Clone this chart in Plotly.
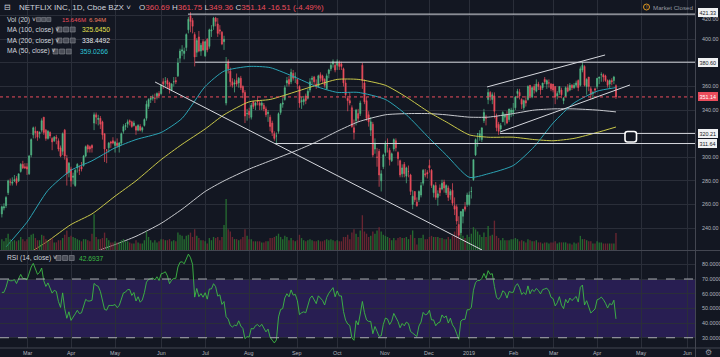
import pandas as pd
import plotly.graph_objects as go

# ---------------- data (NFLX daily, 2018-02-12 .. 2019-04-12) ----------------
holidays = ["2018-02-19", "2018-03-30", "2018-05-28", "2018-07-04", "2018-09-03",
            "2018-11-22", "2018-12-05", "2018-12-25", "2019-01-01", "2019-01-21",
            "2019-02-18", "2019-04-19", "2019-05-27"]

open_ = [
    252, 257, 259, 270, 279, 278, 280, 282, 280, 288, 294, 292,
    292, 286, 302, 319, 322, 322, 320, 323, 334, 323, 316, 321, 316, 314, 317, 314, 308, 305, 323, 299, 287,
    290, 283, 276, 291, 289, 292, 293, 301, 310, 309, 310, 329, 336, 332, 333, 330, 320, 306, 308, 313, 314,
    310, 312, 309, 312, 322, 326, 328, 331, 330, 327, 326, 323, 326, 323, 327, 333, 343, 349, 350, 350, 352, 354,
    354, 364, 364, 365, 363, 357, 364, 365, 369, 384, 390, 388, 393, 408, 420, 416, 404, 389, 402, 390, 398,
    386, 400, 394, 407, 411, 418, 413, 408, 406, 398, 346, 381, 373, 364, 362, 365, 363, 367, 360, 355, 337,
    339, 334, 347, 344, 348, 346, 344, 344, 341, 337, 334, 329, 320, 318, 322, 338, 345, 349, 363, 366, 364, 371, 368,
    366, 360, 347, 347, 352, 350, 357, 366, 368, 362, 360, 370, 369, 366, 358, 371, 375, 379, 378,
    378, 380, 379, 375, 363, 350, 348, 342, 325, 331, 337, 337, 378, 363, 348, 336, 323, 328, 307, 300, 305, 280, 292,
    304, 310, 306, 297, 307, 314, 304, 297, 286, 294, 284, 288, 285, 260, 271, 262, 264, 268, 278, 286, 287,
    293, 289, 270, 276, 266, 274, 273, 279, 270, 274, 268, 272, 259, 258, 243, 236, 250, 258, 260,
    260, 271, 281, 302, 320, 317, 315, 331, 334, 349, 355, 349, 352, 335, 328, 324, 330, 334, 336, 332, 338,
    338, 342, 354, 355, 349, 342, 348, 349, 361, 351, 360, 356, 362, 360, 359, 366, 362, 363, 362,
    362, 360, 352, 355, 357, 348, 352, 359, 357, 361, 359, 361, 365, 361, 374, 377, 360, 368, 358, 354, 358,
    360, 367, 370, 370, 369, 365, 362, 365, 365, 360.69]

high = [
    259, 261, 267, 281, 282, 283, 285, 284, 286, 295, 297, 295,
    295, 302, 316, 326, 326, 322, 322, 333, 334, 324, 323, 322, 317, 318, 319, 316, 310, 321, 324, 302, 296,
    292, 287, 290, 295, 293, 296, 302, 310, 311, 310, 311, 338, 338, 336, 335, 331, 320, 307, 313, 314, 317,
    314, 316, 313, 321, 328, 329, 332, 332, 331, 331, 327, 328, 328, 326, 333, 348, 350, 352, 353, 354, 355, 356,
    362, 367, 368, 367, 364, 363, 368, 368, 384, 392, 395, 393, 405, 419, 423, 418, 406, 401, 407, 397, 400,
    399, 401, 409, 412, 419, 419, 418, 412, 407, 403, 385, 383, 376, 367, 366, 371, 368, 369, 361, 357, 341,
    342, 346, 348, 347, 352, 348, 348, 346, 343, 340, 336, 331, 322, 321, 338, 346, 350, 361, 368, 369, 375, 374, 372,
    367, 361, 351, 352, 354, 358, 367, 369, 369, 366, 370, 372, 370, 367, 371, 375, 380, 383, 381,
    383, 382, 381, 376, 366, 352, 355, 344, 332, 341, 341, 348, 380, 366, 351, 339, 334, 330, 316, 308, 307, 289, 303,
    314, 316, 308, 304, 316, 316, 305, 298, 294, 296, 292, 293, 286, 272, 271, 266, 272, 279, 290, 290, 289,
    298, 290, 277, 279, 272, 277, 281, 281, 277, 276, 273, 278, 266, 260, 250, 254, 256, 262, 270,
    271, 275, 298, 316, 320, 323, 325, 341, 336, 358, 356, 355, 355, 337, 330, 329, 339, 337, 339, 341, 342,
    346, 352, 358, 358, 350, 349, 352, 361, 361, 360, 362, 366, 364, 361, 363, 368, 366, 366, 363,
    362, 360, 356, 360, 359, 351, 360, 362, 363, 362, 363, 365, 366, 377, 381, 378, 367, 368, 360, 356, 359,
    367, 368, 372, 371, 370, 366, 366, 367, 369, 361.75]

low = [
    249, 255, 257, 268, 276, 276, 279, 276, 279, 287, 290, 290,
    285, 285, 300, 316, 316, 314, 316, 321, 319, 314, 315, 316, 306, 313, 311, 305, 300, 302, 298, 276, 283,
    275, 277, 275, 287, 285, 288, 292, 300, 304, 304, 304, 323, 328, 327, 324, 315, 296, 295, 304, 308, 311,
    304, 308, 304, 310, 320, 323, 325, 327, 325, 326, 319, 322, 322, 321, 326, 331, 341, 346, 348, 346, 349, 350,
    353, 358, 360, 358, 354, 356, 360, 362, 368, 380, 386, 383, 390, 405, 406, 405, 377, 385, 389, 386, 390,
    385, 389, 392, 402, 408, 411, 402, 404, 395, 391, 344, 371, 360, 359, 355, 360, 359, 357, 350, 329, 331,
    333, 332, 341, 340, 344, 340, 340, 339, 334, 330, 322, 318, 314, 312, 320, 336, 342, 348, 360, 360, 362, 365, 363,
    358, 342, 341, 344, 345, 349, 355, 362, 361, 358, 359, 364, 363, 359, 357, 367, 373, 376, 372,
    374, 374, 374, 360, 350, 339, 344, 325, 315, 327, 330, 335, 358, 345, 331, 326, 318, 300, 303, 292, 275, 271, 290,
    301, 304, 293, 296, 305, 305, 293, 283, 283, 283, 278, 283, 268, 256, 262, 258, 262, 266, 276, 283, 282,
    287, 274, 266, 264, 259, 267, 272, 270, 268, 263, 264, 259, 251, 243, 231, 234, 244, 254, 258,
    259, 265, 280, 301, 309, 314, 313, 329, 327, 345, 348, 345, 333, 322, 319, 322, 330, 327, 328, 330, 334,
    335, 340, 350, 349, 341, 340, 343, 348, 350, 350, 354, 355, 357, 353, 357, 362, 358, 359, 356,
    355, 345, 349, 353, 350, 345, 351, 355, 356, 357, 358, 359, 356, 360, 372, 360, 353, 356, 349, 349, 354,
    358, 362, 364, 364, 364, 359, 358, 361, 362, 349.36]

close = [
    258, 258, 266, 280, 279, 279, 281, 278, 286, 294, 291, 291,
    290, 301, 315, 325, 321, 317, 321, 331, 321, 316, 322, 318, 313, 317, 316, 307, 301, 320, 301, 286, 295,
    280, 284, 289, 294, 289, 290, 301, 309, 307, 307, 308, 336, 334, 333, 328, 319, 307, 306, 312, 312, 312,
    313, 310, 312, 320, 326, 327, 330, 330, 326, 329, 323, 327, 323, 325, 332, 345, 349, 350, 351, 350, 354, 352,
    361, 362, 364, 362, 358, 362, 364, 364, 380, 390, 391, 390, 404, 417, 415, 411, 385, 399, 390, 395, 391,
    398, 391, 408, 408, 418, 415, 405, 407, 396, 400, 379, 375, 364, 361, 363, 362, 367, 359, 355, 335, 337,
    336, 344, 343, 346, 347, 344, 346, 341, 336, 338, 326, 321, 316, 318, 337, 345, 346, 359, 365, 362, 372, 367, 368,
    362, 346, 348, 349, 348, 356, 364, 367, 364, 360, 369, 367, 365, 361, 369, 374, 378, 381, 374,
    381, 377, 377, 363, 353, 348, 346, 326, 321, 340, 333, 346, 365, 347, 333, 330, 330, 302, 312, 300, 285, 286, 302,
    312, 310, 298, 303, 315, 308, 299, 285, 291, 286, 291, 288, 271, 267, 264, 259, 271, 276, 289, 285, 286,
    291, 276, 276, 266, 269, 270, 278, 274, 276, 266, 271, 261, 256, 246, 234, 254, 256, 256, 268,
    268, 271, 298, 315, 320, 320, 325, 338, 333, 355, 351, 353, 339, 325, 322, 327, 338, 336, 329, 341, 340,
    340, 351, 356, 352, 345, 348, 346, 360, 352, 359, 357, 362, 360, 357, 363, 364, 365, 363, 358,
    357, 351, 354, 360, 353, 350, 359, 356, 361, 359, 361, 363, 359, 375, 378, 361, 366, 360, 353, 355, 357,
    367, 368, 370, 368, 365, 361, 365, 364, 368, 351.14]

volume_m = [
    10, 8, 11, 15, 10, 8, 9, 8, 9, 12, 10, 8,
    10, 12, 14, 15, 11, 9, 9, 14, 13, 10, 8, 9, 11, 7, 7, 9, 9, 11, 14, 18, 12,
    13, 12, 11, 10, 9, 8, 10, 10, 9, 8, 15, 33, 12, 10, 10, 11, 16, 11, 9, 7, 7,
    8, 7, 7, 9, 10, 8, 8, 7, 6, 6, 9, 7, 6, 6, 9, 17, 12, 9, 7, 9, 7, 8,
    10, 10, 9, 9, 10, 8, 9, 8, 16, 14, 13, 10, 13, 14, 16, 12, 19, 13, 11, 9, 9,
    8, 6, 11, 9, 12, 11, 12, 9, 12, 23, 47, 19, 17, 12, 10, 10, 9, 10, 12, 19, 13,
    10, 10, 8, 8, 8, 8, 7, 7, 8, 8, 11, 11, 12, 13, 15, 12, 10, 13, 12, 9, 11, 9, 8,
    9, 14, 11, 9, 8, 9, 10, 9, 8, 8, 9, 8, 8, 9, 10, 9, 10, 9, 8,
    9, 8, 8, 12, 12, 14, 10, 16, 19, 15, 12, 18, 32, 17, 15, 12, 13, 17, 15, 18, 21, 17, 14,
    13, 12, 11, 9, 11, 9, 11, 12, 11, 11, 12, 10, 14, 18, 11, 5, 11, 11, 14, 10, 10,
    12, 13, 12, 12, 12, 11, 11, 10, 10, 12, 10, 13, 17, 22, 10, 15, 13, 11, 14,
    12, 15, 21, 19, 17, 14, 12, 16, 12, 22, 13, 14, 27, 13, 11, 9, 11, 9, 9, 9, 10,
    10, 11, 10, 8, 9, 8, 7, 10, 9, 8, 8, 9, 7, 7, 6, 7, 7, 6, 7,
    7, 8, 6, 7, 7, 7, 7, 6, 6, 5, 7, 6, 7, 13, 10, 10, 9, 8, 8, 6, 6,
    8, 7, 7, 6, 6, 6, 6, 6, 6, 15.6]

# closes of Jan 2 .. Feb 9 2018, only used to warm up RSI(14)
warmup_close = [201, 205, 206, 210, 212, 209, 213, 217, 220, 220, 215, 220, 220, 228,
                250, 261, 270, 275, 285, 279, 270, 265, 267, 254, 266, 265, 250, 249]

ma_dates = ["2018-02-14", "2018-03-01", "2018-03-06", "2018-03-15", "2018-04-02", "2018-04-16",
            "2018-04-19", "2018-05-01", "2018-05-15", "2018-06-01", "2018-06-15", "2018-07-02",
            "2018-07-16", "2018-08-01", "2018-08-15", "2018-09-04", "2018-09-17", "2018-10-01",
            "2018-10-15", "2018-11-01", "2018-11-15", "2018-12-03", "2018-12-14", "2019-01-02",
            "2019-01-15", "2019-02-01", "2019-02-15", "2019-03-01", "2019-03-15", "2019-04-01",
            "2019-04-12"]
ma50 = [224, 245, None, 272, 289, 297, None, 308, 315, 321, 333, 360, 373, 377, 376, 367, 360,
        355, 355, 349, 336, 316, 302, 283, 286, 293, 309, 329, 346, 356, 359.03]
ma100 = [None, None, 221, 229, 243, 252, None, 267, 280, 298, 311, 324, 336, 347, 349, 356, 361,
         366, 366, 361, 351, 338, 330, 319, 317, 317, 315, 314, 316, 321, 325.65]
ma200 = [None, None, None, None, None, None, 221, 226, 233, 244, 256, 271, 280, 290, 297, 306,
         313, 322, 330, 336, 337, 337, 336, 334, 334, 337, 340, 341, 341, 340, 338.45]

rsi_levels = [30, 40, 50, 60, 70, 80]
price_ticks = [240, 260, 280, 300, 320, 340, 360, 380, 400, 420]
ray_levels = [421.33, 380.60, 320.21, 311.64]

# ---------------- derived ----------------
all_days = pd.bdate_range("2018-02-12", "2019-07-10")
trade_days = [d for d in all_days if d.strftime("%Y-%m-%d") not in holidays]
n = len(close)
xs = list(range(n))
day_index = {d.strftime("%Y-%m-%d"): i for i, d in enumerate(trade_days)}

tickvals, ticktext = [], []
seen = set()
for i, d in enumerate(trade_days):
    key = (d.year, d.month)
    if key in seen:
        continue
    seen.add(key)
    if d < pd.Timestamp("2018-03-01"):
        continue
    tickvals.append(i)
    ticktext.append("2019" if (d.year == 2019 and d.month == 1) else d.strftime("%b"))

c = pd.Series(warmup_close + close, dtype=float)
dlt = c.diff()
up = dlt.clip(lower=0).ewm(alpha=1 / 14, adjust=False).mean()
dn = (-dlt.clip(upper=0)).ewm(alpha=1 / 14, adjust=False).mean()
rsi = (100 - 100 / (1 + up / dn)).iloc[len(warmup_close):].tolist()

PX = 2.096
XL = 12 - 27 / PX
XR = XL + 695 / PX
YLO, YHI = 221.4, 433.3
RLO, RHI = 23.0, 89.1

BG = "#131722"
GRID = "#2a2e39"
TXT = "#b2b5be"
UP, DOWN = "#53b987", "#eb4d5c"
FONT = "Liberation Sans, Arial, sans-serif"


def pxx(v):
    return v / 720


def pyy(v):
    return 1 - v / 357


fig = go.Figure()

vol_colors = ["rgba(40,120,50,0.85)" if cl >= op else "rgba(120,40,52,0.85)"
              for op, cl in zip(open_, close)]
fig.add_trace(go.Bar(x=xs, y=volume_m, marker=dict(color=vol_colors, line=dict(width=0)),
                     xaxis="x", yaxis="y3", hoverinfo="skip"))

ma_x = [day_index[d] for d in ma_dates]


def pts(vals):
    return ([mx for mx, v in zip(ma_x, vals) if v is not None],
            [v for v in vals if v is not None])


for vals, col in [(ma200, "#c8cacf"), (ma100, "#c9c84a"), (ma50, "#2ba3b4")]:
    mx, my = pts(vals)
    fig.add_trace(go.Scatter(x=mx, y=my, mode="lines",
                             line=dict(color=col, width=1, shape="spline", smoothing=0.6),
                             xaxis="x", yaxis="y", hoverinfo="skip"))

fig.add_trace(go.Candlestick(x=xs, open=open_, high=high, low=low, close=close,
                             increasing=dict(line=dict(color=UP, width=0.7), fillcolor=UP),
                             decreasing=dict(line=dict(color=DOWN, width=0.7), fillcolor=DOWN),
                             xaxis="x", yaxis="y", hoverinfo="skip"))

fig.add_trace(go.Scatter(x=xs, y=rsi, mode="lines", line=dict(color="#3dbb45", width=0.9),
                         xaxis="x2", yaxis="y2", hoverinfo="skip"))

shapes = []
shapes.append(dict(type="rect", xref="x2 domain", yref="y2", x0=0, x1=1, y0=30, y1=70,
                   fillcolor="rgb(40,30,82)", line=dict(width=0), layer="below"))
for lv in (70, 30):
    shapes.append(dict(type="line", xref="x2 domain", yref="y2", x0=0, x1=1, y0=lv, y1=lv,
                       line=dict(color="#a9abb3", width=1, dash="dash")))
shapes.append(dict(type="line", xref="x", yref="y", x0=XL, x1=XR, y0=351.14, y1=351.14,
                   line=dict(color=DOWN, width=1, dash="dot")))
LINE = dict(color="#d6d8de", width=1)
for x0, y0, x1, y1 in [(73.1, 363.8, 229.1, 221.4), (231.5, 359.6, 287.8, 386.7),
                       (237.7, 321.4, 299.7, 361.3)]:
    shapes.append(dict(type="line", xref="x", yref="y", x0=x0, y0=y0, x1=x1, y1=y1, line=LINE))
for lv, x0 in zip(ray_levels, [88.8, 92.2, 237.7, 130.3]):
    shapes.append(dict(type="line", xref="x", yref="y", x0=x0, x1=XR, y0=lv, y1=lv, line=LINE))
for yline in (250.5, 348):
    shapes.append(dict(type="line", xref="paper", yref="paper", x0=0, x1=1, y0=pyy(yline), y1=pyy(yline),
                       line=dict(color="#434651", width=1)))
shapes.append(dict(type="line", xref="paper", yref="paper", x0=pxx(695.5), x1=pxx(695.5), y0=0, y1=1,
                   line=dict(color="#434651", width=1)))


def rpath(x0, y0, x1, y1, r):
    X = pxx
    Y = pyy
    return (f"M {X(x0 + r)},{Y(y0)} L {X(x1 - r)},{Y(y0)} Q {X(x1)},{Y(y0)} {X(x1)},{Y(y0 + r)} "
            f"L {X(x1)},{Y(y1 - r)} Q {X(x1)},{Y(y1)} {X(x1 - r)},{Y(y1)} L {X(x0 + r)},{Y(y1)} "
            f"Q {X(x0)},{Y(y1)} {X(x0)},{Y(y1 - r)} L {X(x0)},{Y(y0 + r)} Q {X(x0)},{Y(y0)} {X(x0 + r)},{Y(y0)} Z")


shapes.append(dict(type="path", xref="paper", yref="paper", path=rpath(625, 131.5, 636.5, 142, 2.5),
                   line=dict(color="#ffffff", width=1.6), fillcolor=BG))
shapes.append(dict(type="circle", xref="paper", yref="paper", x0=pxx(643.5), x1=pxx(649.5),
                   y0=pyy(10), y1=pyy(4), line=dict(color="#f5a623", width=0.9)))


def icons(x0, yc, size=5, gap=1.6):
    out = []
    for k in range(3):
        xa = x0 + k * (size + gap)
        out.append(dict(type="rect", xref="paper", yref="paper", x0=pxx(xa), x1=pxx(xa + size),
                        y0=pyy(yc + size / 2), y1=pyy(yc - size / 2),
                        fillcolor="#4a4d57", line=dict(color="#8a8d96", width=0.6)))
    return out


shapes += icons(36.5, 19.5, 4.2, 0.9)
shapes += icons(57, 29.5)
shapes += icons(57, 40.5)
shapes += icons(53, 51.5)
shapes += icons(56, 258)

ann = []


def t(xp, yp, text, size=6.7, color="#d1d4dc", anchor="left"):
    ann.append(dict(xref="paper", yref="paper", x=pxx(xp), y=pyy(yp), text=text, showarrow=False,
                    xanchor=anchor, yanchor="middle", font=dict(family=FONT, size=size, color=color)))


R = DOWN
t(2, 7, "⊟", 8)
t(17, 7, "NETFLIX INC, 1D, Cboe BZX ˅", 8)
t(137, 7, f"O<span style='color:{R}'>360.69</span> H<span style='color:{R}'>361.75</span> "
          f"L<span style='color:{R}'>349.36</span> C<span style='color:{R}'>351.14</span> "
          f"<span style='color:{R}'>-16.51 (-4.49%)</span>", 8)
t(5, 19.5, "Vol (20) ˅")
t(60, 19.5, "15.646M", 6.2, color=R)
t(87, 19.5, "6.94M", 6.2, color="#ef7b5b")
t(5, 29.5, "MA (100, close) ˅")
t(80, 29.5, "325.6450", color="#e3e34f")
t(5, 40.5, "MA (200, close) ˅")
t(80, 40.5, "338.4492", color="#e6e7ea")
t(5, 51.5, "MA (50, close) ˅")
t(78, 51.5, "359.0266", color="#2ec4d6")
t(5, 258, "RSI (14, close) ˅")
t(77, 258, "42.6937", color="#3dbb45")
t(651, 7, "Market Closed", 6.2, "#9598a1")
t(646.5, 7, "!", 5, "#f5a623", "center")
t(708, 352, "⚙", 8, "#9598a1", "center")

# price axis labels (drawn as text so they sit exactly like the reference)
for v in price_ticks:
    if v in (320, 380):
        continue
    ann.append(dict(xref="paper", yref="y", x=pxx(700), y=v - (2.6 if v == 420 else 0),
                    text=f"{v:.2f}", showarrow=False,
                    xanchor="left", yanchor="middle", font=dict(family=FONT, size=5.4, color=TXT)))
for v in rsi_levels:
    ann.append(dict(xref="paper", yref="y2", x=pxx(700), y=v, text=f"{v:.4f}", showarrow=False,
                    xanchor="left", yanchor="middle", font=dict(family=FONT, size=5.4, color=TXT)))
for lv in ray_levels:
    ann.append(dict(xref="paper", yref="y", x=pxx(698), y=lv + (1.6 if lv > 420 else 0), text=f"{lv:.2f}",
                    showarrow=False,
                    xanchor="left", yanchor="middle", bgcolor="#f0f1f3", bordercolor="#f0f1f3",
                    borderpad=0.5, font=dict(family=FONT, size=5.4, color="#131722")))
ann.append(dict(xref="paper", yref="y", x=pxx(698), y=351.14, text="351.14", showarrow=False,
                xanchor="left", yanchor="middle", bgcolor=DOWN, bordercolor=DOWN, borderpad=0.5,
                font=dict(family=FONT, size=5.4, color="#ffffff")))
for tv, tt in zip(tickvals, ticktext):
    ann.append(dict(xref="x2", yref="paper", x=tv, y=pyy(352.5), text=tt, showarrow=False,
                    xanchor="center", yanchor="middle", font=dict(family=FONT, size=5.4, color=TXT)))

axis_common = dict(showline=False, zeroline=False, gridcolor=GRID, gridwidth=1,
                   showticklabels=False, ticks="", fixedrange=True, automargin=False)

fig.update_layout(
    width=720, height=357, margin=dict(l=0, r=0, t=0, b=0, autoexpand=False),
    paper_bgcolor=BG, plot_bgcolor=BG, showlegend=False,
    font=dict(family=FONT),
    xaxis=dict(domain=[0, 695 / 720], range=[XL, XR], anchor="y", tickvals=tickvals,
               rangeslider=dict(visible=False), **axis_common),
    xaxis2=dict(domain=[0, 695 / 720], range=[XL, XR], anchor="y2", matches="x", tickvals=tickvals,
                **axis_common),
    yaxis=dict(domain=[1 - 250 / 357, 1], range=[YLO, YHI], anchor="x", side="right",
               tickvals=price_ticks, **axis_common),
    yaxis3=dict(domain=[1 - 250 / 357, 1], range=[0, 230], overlaying="y", anchor="x", visible=False,
                fixedrange=True),
    yaxis2=dict(domain=[1 - 348 / 357, 1 - 251 / 357], range=[RLO, RHI], anchor="x2", side="right",
                tickvals=rsi_levels, **axis_common),
    shapes=shapes, annotations=ann, bargap=0.35,
)

fig.write_html("out.html", config={"displayModeBar": False, "staticPlot": True},
               post_script="document.body.style.margin='0';document.body.style.padding='0';"
                           "document.body.style.overflow='hidden';document.body.style.background='#131722';")
